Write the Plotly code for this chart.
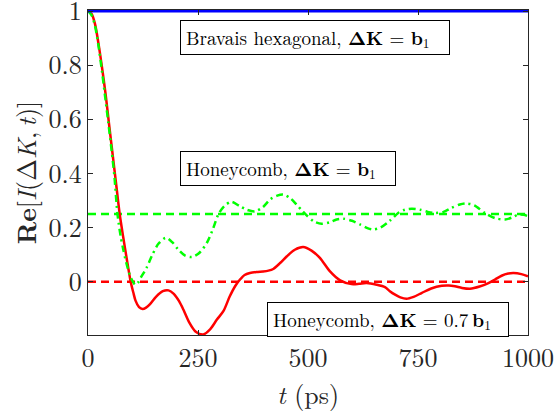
import plotly.graph_objects as go

# ---- data ----
t_red = [0, 8, 16, 24, 32, 40, 48, 56, 64, 72, 80, 88, 97, 103, 108, 116, 124, 132, 141,
         155, 170, 183, 195, 207, 217, 230, 245, 262, 278, 293, 308, 322, 335, 345, 356,
         368, 383, 398, 410, 421, 436, 452, 470, 489, 508, 527, 550, 573, 599, 616, 633,
         656, 675, 686, 698, 710, 724, 740, 758, 780, 804, 820, 834, 850, 868, 890, 910,
         925, 940, 955, 967, 985, 1000]
re_red = [1.0, 0.99, 0.952, 0.878, 0.79, 0.693, 0.58, 0.47, 0.36, 0.25, 0.165, 0.085, 0.0,
          -0.04, -0.07, -0.094, -0.101, -0.096, -0.083, -0.055, -0.035, -0.032, -0.045,
          -0.072, -0.104, -0.15, -0.185, -0.195, -0.175, -0.14, -0.108, -0.055, -0.015,
          0.007, 0.025, 0.032, 0.036, 0.038, 0.041, 0.047, 0.068, 0.094, 0.118, 0.128,
          0.115, 0.088, 0.038, 0.005, -0.009, -0.008, -0.005, -0.011, -0.02, -0.035,
          -0.048, -0.058, -0.063, -0.056, -0.042, -0.025, -0.015, -0.014, -0.017, -0.023,
          -0.026, -0.018, -0.005, 0.008, 0.022, 0.030, 0.032, 0.028, 0.020]

t_green = [0, 8, 16, 24, 32, 40, 46, 54, 60, 67, 74, 80, 87, 95, 102, 107, 113, 120, 133,
           145, 160, 177, 192, 205, 220, 236, 252, 270, 284, 296, 310, 326, 345, 362, 380,
           397, 414, 430, 444, 460, 474, 488, 497, 514, 531, 550, 565, 580, 600, 620, 635,
           648, 665, 686, 705, 720, 736, 755, 772, 789, 808, 825, 845, 861, 878, 902, 925,
           948, 965, 978, 990, 1000]
re_green = [1.0, 0.985, 0.945, 0.87, 0.775, 0.67, 0.59, 0.48, 0.39, 0.25, 0.17, 0.12, 0.07,
            0.025, 0.0, -0.011, -0.005, 0.015, 0.051, 0.095, 0.14, 0.162, 0.145, 0.119,
            0.097, 0.091, 0.105, 0.143, 0.195, 0.248, 0.28, 0.295, 0.279, 0.265, 0.26,
            0.275, 0.304, 0.318, 0.322, 0.308, 0.285, 0.26, 0.245, 0.222, 0.214, 0.22,
            0.23, 0.233, 0.225, 0.21, 0.198, 0.193, 0.2, 0.225, 0.254, 0.266, 0.27, 0.266,
            0.258, 0.254, 0.258, 0.272, 0.285, 0.289, 0.282, 0.254, 0.235, 0.23, 0.238,
            0.248, 0.247, 0.242]

t_range = [0, 1000]
bravais_level = [1.0, 1.0]
honey_b1_level = [0.25, 0.25]
honey_07_level = [0.0, 0.0]

x_ticks = [0, 250, 500, 750, 1000]
y_ticks = [0, 0.2, 0.4, 0.6, 0.8, 1]
y_ticktext = ["0", "0.2", "0.4", "0.6", "0.8", "1"]

label_texts = [
    "Bravais hexagonal, <b>ΔK</b> = <b>b</b><sub>1</sub>",
    "Honeycomb, <b>ΔK</b> = <b>b</b><sub>1</sub>",
    "Honeycomb, <b>ΔK</b> = 0.7\u2009<b>b</b><sub>1</sub>",
]

FONT = "Latin Modern Roman, CMU Serif, Liberation Serif, serif"
AX = "#262626"

fig = go.Figure()
fig.add_trace(go.Scatter(x=t_range, y=honey_07_level, mode="lines",
                         line=dict(color="#ff0000", width=2.5, dash="8px,5px")))
fig.add_trace(go.Scatter(x=t_range, y=honey_b1_level, mode="lines",
                         line=dict(color="#00ff00", width=2.5, dash="8px,5px")))
fig.add_trace(go.Scatter(x=t_red, y=re_red, mode="lines",
                         line=dict(color="#ff0000", width=2.5, shape="spline", smoothing=0.8)))
fig.add_trace(go.Scatter(x=t_green, y=re_green, mode="lines",
                         line=dict(color="#00ff00", width=2.5, shape="spline", smoothing=0.8,
                                   dash="7px,4px,2px,4px")))
fig.add_trace(go.Scatter(x=t_range, y=bravais_level, mode="lines",
                         line=dict(color="#0000ff", width=3)))

ann_font = dict(family=FONT, size=19, color="black")
# (left x in data units, centre y in data units, box width px)
placements = [(209, 0.904, 269), (209, 0.417, 215), (407, -0.139, 241)]
for txt, (ax_, ay_, w) in zip(label_texts, placements):
    fig.add_annotation(x=ax_, y=ay_, xref="x", yref="y", text=txt,
                       showarrow=False, xanchor="left", yanchor="middle",
                       align="left", valign="middle", width=w - 11, height=23,
                       font=ann_font, bgcolor="white", bordercolor="black",
                       borderwidth=1, borderpad=5)

fig.update_layout(
    width=557, height=416, autosize=False,
    margin=dict(l=88, r=29, t=10, b=81, autoexpand=False),
    paper_bgcolor="white", plot_bgcolor="white",
    showlegend=False,
    font=dict(family=FONT, color=AX),
)
fig.update_xaxes(range=[0, 1000], tickvals=x_ticks, ticks="inside", ticklen=5,
                 tickcolor=AX, showline=True, linecolor=AX, linewidth=1, mirror="ticks",
                 showgrid=False, zeroline=False, automargin=False, ticklabeloverflow="allow",
                 tickfont=dict(family=FONT, size=26, color=AX),
                 title=dict(text="<i>t</i> (ps)", font=dict(family=FONT, size=26, color=AX),
                            standoff=0))
fig.update_yaxes(range=[-0.197, 1.004], tickvals=y_ticks, ticktext=y_ticktext,
                 ticks="inside", ticklen=5,
                 tickcolor=AX, showline=True, linecolor=AX, linewidth=1, mirror="ticks",
                 showgrid=False, zeroline=False, automargin=False, ticklabeloverflow="allow",
                 tickfont=dict(family=FONT, size=26, color=AX),
                 title=dict(text="<b>Re</b>[<i>I</i>(Δ<i>K</i>,\u2009<i>t</i>)]",
                            font=dict(family=FONT, size=26, color=AX), standoff=4))

# remove the page's default 8px body margin so the figure sits at the window origin
fig.write_html("out.html", config={"displayModeBar": False},
               post_script="document.body.style.margin='0px';")
